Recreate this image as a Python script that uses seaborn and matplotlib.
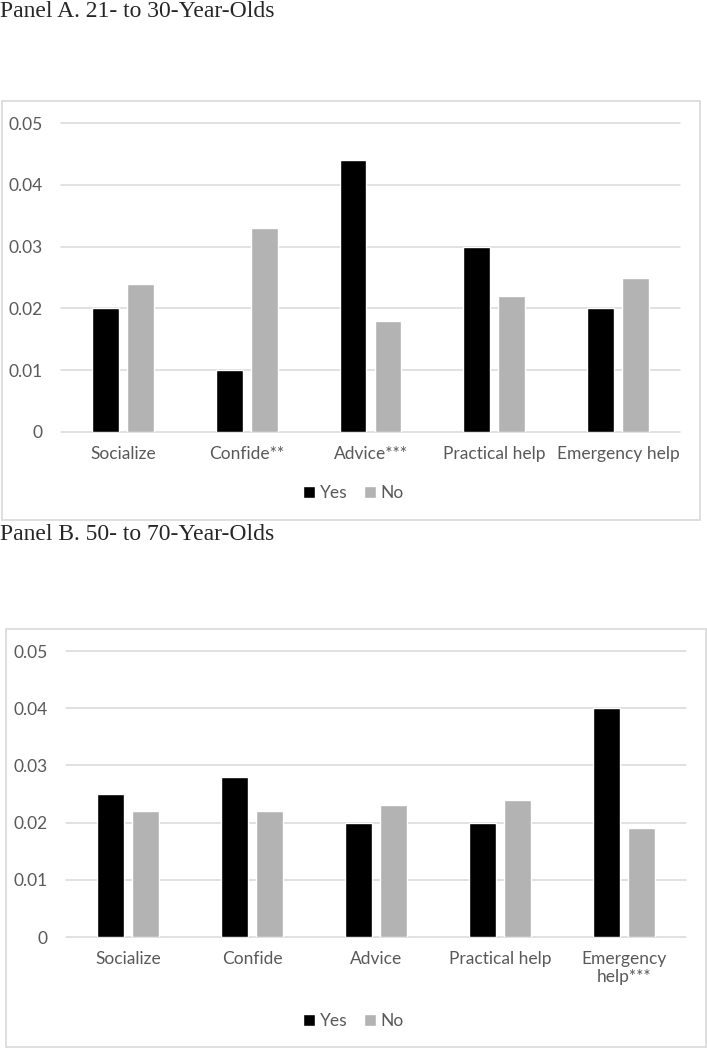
import numpy as np
import pandas as pd
import matplotlib
matplotlib.use("Agg")
import matplotlib.pyplot as plt
from matplotlib.patches import Rectangle, Patch
import seaborn as sns

# ---- data ----
cats_a = ["Socialize", "Confide**", "Advice***", "Practical help", "Emergency help"]
yes_a = [0.020, 0.010, 0.044, 0.030, 0.020]
no_a = [0.024, 0.033, 0.018, 0.022, 0.025]

cats_b = ["Socialize", "Confide", "Advice", "Practical help", "Emergency\nhelp***"]
yes_b = [0.025, 0.028, 0.020, 0.020, 0.040]
no_b = [0.022, 0.022, 0.023, 0.024, 0.019]

groups = ["Yes", "No"]
yticks = [0, 0.01, 0.02, 0.03, 0.04, 0.05]
ytick_labels = ["0", "0.01", "0.02", "0.03", "0.04", "0.05"]

title_a = "Panel A. 21- to 30-Year-Olds"
title_b = "Panel B. 50- to 70-Year-Olds"

colors = {"Yes": "#000000", "No": "#b3b3b3"}
txt_gray = "#595959"
grid_gray = "#d9d9d9"

sns.set_style("white")
plt.rcParams["font.family"] = ["Lato", "DejaVu Sans"]

W, H = 707, 1050
fig = plt.figure(figsize=(W / 100, H / 100), dpi=100)


def px_axes(x0, x1, ytop, ybot):
    return fig.add_axes([x0 / W, 1 - ybot / H, (x1 - x0) / W, (ybot - ytop) / H])


def frame(x0, x1, ytop, ybot):
    fig.patches.append(Rectangle((x0 / W, 1 - ybot / H), (x1 - x0) / W, (ybot - ytop) / H,
                                 transform=fig.transFigure, fill=False,
                                 edgecolor=grid_gray, linewidth=1.2))


def panel(ax, cats, yes, no, legend_y):
    df = pd.DataFrame({
        "category": cats * 2,
        "value": yes + no,
        "group": ["Yes"] * len(cats) + ["No"] * len(cats),
    })
    sns.barplot(data=df, x="category", y="value", hue="group", hue_order=groups,
                palette=colors, saturation=1, width=0.565, gap=0.23,
                ax=ax, legend=False, zorder=2)
    ax.set_xlim(-0.5, len(cats) - 0.5)
    ax.set_ylim(0, 0.05)
    ax.set_yticks(yticks)
    ax.set_yticklabels(ytick_labels)
    ax.set_xlabel("")
    ax.set_ylabel("")
    for y in yticks:
        ax.axhline(y, color=grid_gray, linewidth=1.1, zorder=0, clip_on=False)
    for s in ax.spines.values():
        s.set_visible(False)
    ax.tick_params(axis="both", length=0, labelsize=12.5, colors=txt_gray)
    ax.tick_params(axis="y", pad=13)
    ax.tick_params(axis="x", pad=10)
    handles = [Patch(facecolor=colors[g], label=g) for g in groups]
    leg = fig.legend(handles=handles, loc="center", bbox_to_anchor=(0.5, 1 - legend_y / H),
                     ncol=2, frameon=False, fontsize=12.5, handlelength=0.7,
                     handleheight=0.7, handletextpad=0.3, columnspacing=0.9)
    for t in leg.get_texts():
        t.set_color(txt_gray)


# Panel A
fig.text(0, 1 - 1 / H, title_a, ha="left", va="top", fontsize=17,
         family=["Liberation Serif", "DejaVu Serif"])
frame(2, 700, 101, 520)
ax_a = px_axes(61, 680, 123, 432)
panel(ax_a, cats_a, yes_a, no_a, 493)

# Panel B
fig.text(0, 1 - 524 / H, title_b, ha="left", va="top", fontsize=17,
         family=["Liberation Serif", "DejaVu Serif"])
frame(6, 706, 629, 1047)
ax_b = px_axes(66, 686, 651, 937)
panel(ax_b, cats_b, yes_b, no_b, 1021)

fig.savefig("out.png", dpi=100, facecolor="white")
